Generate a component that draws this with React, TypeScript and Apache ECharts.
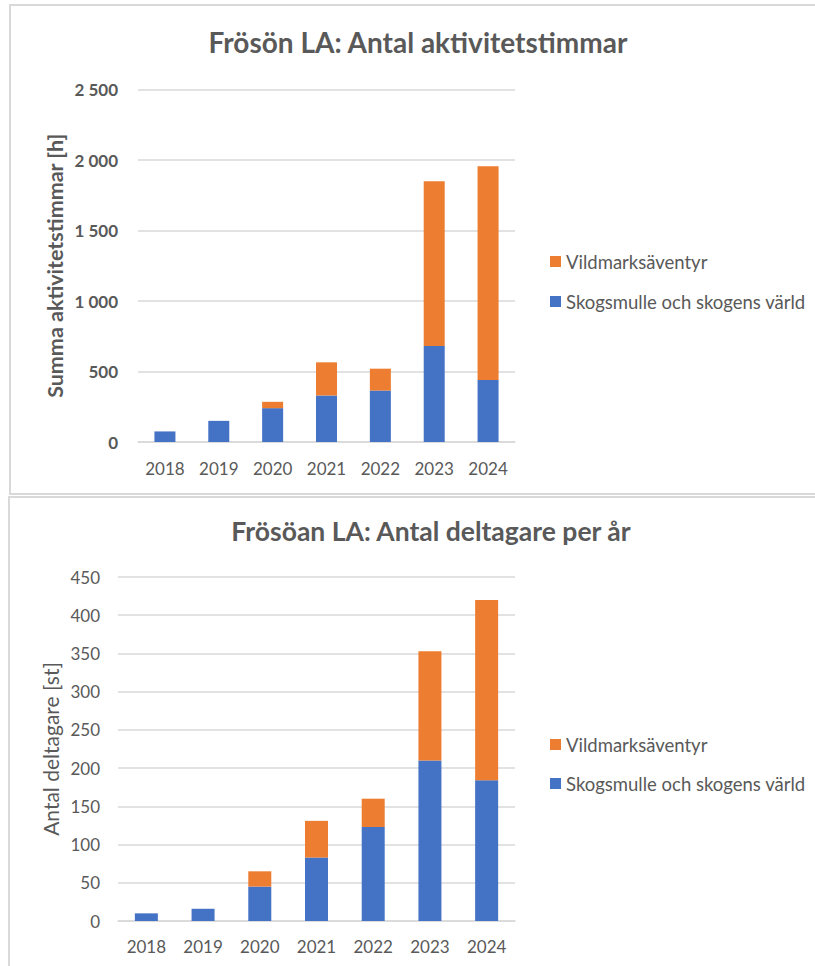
import React, { useEffect, useRef } from "react";
import * as echarts from "echarts";

const years = ["2018", "2019", "2020", "2021", "2022", "2023", "2024"];
const hoursSkogsmulle = [75, 150, 240, 330, 365, 680, 440];
const hoursVildmark = [0, 0, 45, 235, 155, 1170, 1515];
const peopleSkogsmulle = [10, 16, 45, 83, 123, 210, 184];
const peopleVildmark = [0, 0, 20, 48, 37, 143, 236];

const seriesBlue = "Skogsmulle och skogens värld";
const seriesOrange = "Vildmarksäventyr";
const titleTop = "Frösön LA: Antal aktivitetstimmar";
const titleBottom = "Frösöan LA: Antal deltagare per år";
const nameTop = "Summa aktivitetstimmar [h]";
const nameBottom = "Antal deltagare [st]";

const BLUE = "#4472C4";
const ORANGE = "#ED7D31";
const TEXT = "#595959";
const GRID = "#D9D9D9";
const FONT = "Lato, 'Open Sans', sans-serif";

const fmtThousands = (v: number) =>
  String(v).replace(/\B(?=(\d{3})+(?!\d))/g, " ");

export default function App() {
  const ref = useRef<HTMLDivElement>(null);
  useEffect(() => {
    if (!ref.current) return;
    const chart = echarts.init(ref.current, undefined, { renderer: "svg" });
    const xAxisBase = (gridIndex: number, margin: number) => ({
      type: "category" as const,
      gridIndex,
      data: years,
      axisTick: { show: false },
      axisLine: { show: true, lineStyle: { color: GRID, width: 1.5 } },
      axisLabel: {
        color: TEXT,
        fontFamily: FONT,
        fontSize: 17,
        margin,
      },
    });
    chart.setOption({
      animation: false,
      textStyle: { fontFamily: FONT },
      title: [
        {
          text: titleTop,
          left: 418,
          top: 28,
          textAlign: "center",
          padding: 0,
          textStyle: { color: TEXT, fontSize: 28, fontWeight: "bold", fontFamily: FONT },
        },
        {
          text: titleBottom,
          left: 431,
          top: 517,
          textAlign: "center",
          padding: 0,
          textStyle: { color: TEXT, fontSize: 26.5, fontWeight: "bold", fontFamily: FONT },
        },
      ],
      legend: [
        {
          data: [seriesOrange, seriesBlue],
          orient: "vertical",
          left: 550,
          top: 252,
          itemWidth: 11,
          itemHeight: 11,
          itemGap: 21,
          padding: 0,
          icon: "rect",
          textStyle: { color: TEXT, fontSize: 18.5, fontFamily: FONT },
        },
        {
          data: [seriesOrange, seriesBlue],
          orient: "vertical",
          left: 550,
          top: 735,
          itemWidth: 11,
          itemHeight: 11,
          itemGap: 20,
          padding: 0,
          icon: "rect",
          textStyle: { color: TEXT, fontSize: 18.5, fontFamily: FONT },
        },
      ],
      grid: [
        { left: 138, right: 300, top: 89.5, height: 352.5 },
        { left: 118, right: 300, top: 577, height: 344 },
      ],
      xAxis: [xAxisBase(0, 18), xAxisBase(1, 17)],
      yAxis: [
        {
          type: "value",
          gridIndex: 0,
          min: 0,
          max: 2500,
          interval: 500,
          name: nameTop,
          nameLocation: "middle",
          nameGap: 72,
          nameTextStyle: { color: TEXT, fontSize: 21.5, fontWeight: "bold", fontFamily: FONT },
          axisLine: { show: false },
          axisTick: { show: false },
          axisLabel: {
            color: TEXT,
            fontSize: 17,
            fontWeight: "bold",
            fontFamily: FONT,
            margin: 20,
            formatter: (v: number) => fmtThousands(v),
          },
          splitLine: { lineStyle: { color: GRID, width: 1.5 } },
        },
        {
          type: "value",
          gridIndex: 1,
          min: 0,
          max: 450,
          interval: 50,
          name: nameBottom,
          nameLocation: "middle",
          nameGap: 57,
          nameTextStyle: { color: TEXT, fontSize: 21, fontFamily: FONT },
          axisLine: { show: false },
          axisTick: { show: false },
          axisLabel: {
            color: TEXT,
            fontSize: 17,
            fontFamily: FONT,
            margin: 18,
          },
          splitLine: { lineStyle: { color: GRID, width: 1.5 } },
        },
      ],
      series: [
        {
          name: seriesBlue,
          type: "bar",
          stack: "hours",
          xAxisIndex: 0,
          yAxisIndex: 0,
          barWidth: 21,
          itemStyle: { color: BLUE },
          data: hoursSkogsmulle,
        },
        {
          name: seriesOrange,
          type: "bar",
          stack: "hours",
          xAxisIndex: 0,
          yAxisIndex: 0,
          barWidth: 21,
          itemStyle: { color: ORANGE },
          data: hoursVildmark,
        },
        {
          name: seriesBlue,
          type: "bar",
          stack: "people",
          xAxisIndex: 1,
          yAxisIndex: 1,
          barWidth: 23,
          itemStyle: { color: BLUE },
          data: peopleSkogsmulle,
        },
        {
          name: seriesOrange,
          type: "bar",
          stack: "people",
          xAxisIndex: 1,
          yAxisIndex: 1,
          barWidth: 23,
          itemStyle: { color: ORANGE },
          data: peopleVildmark,
        },
      ],
      graphic: [
        {
          type: "rect",
          silent: true,
          shape: { x: 10, y: 5, width: 820, height: 489 },
          style: { fill: "none", stroke: GRID, lineWidth: 2 },
        },
        {
          type: "rect",
          silent: true,
          shape: { x: 9, y: 497, width: 820, height: 480 },
          style: { fill: "none", stroke: GRID, lineWidth: 2 },
        },
      ],
    });
    return () => chart.dispose();
  }, []);
  return (
    <div
      ref={ref}
      style={{ position: "absolute", left: 0, top: 0, width: 815, height: 966 }}
    />
  );
}
